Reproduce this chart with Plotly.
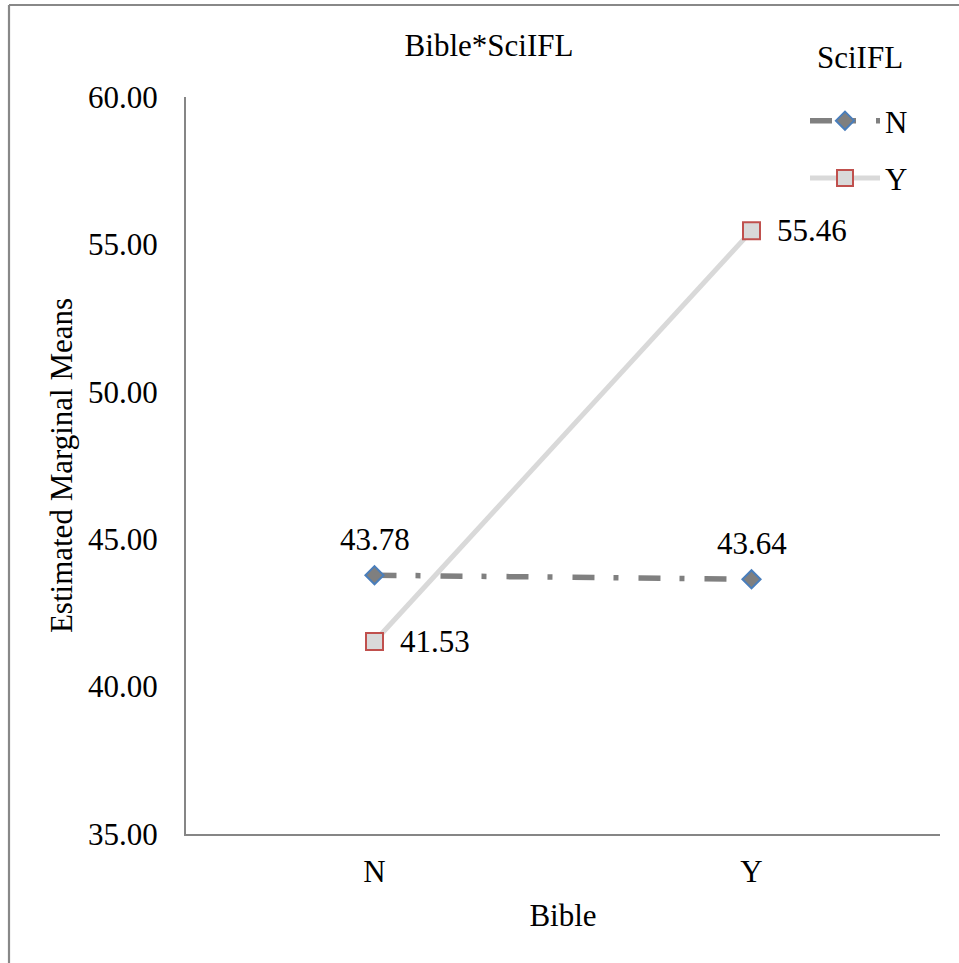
import plotly.graph_objects as go

bible = ["N", "Y"]
scifl_n = [43.78, 43.64]
scifl_y = [41.53, 55.46]
y_ticks = [35, 40, 45, 50, 55, 60]

FONT = "Times New Roman, Liberation Serif, serif"
FS = 31

fig = go.Figure()
fig.add_trace(go.Scatter(
    x=bible, y=scifl_n, name="N", mode="lines+markers", legendgroup="n",
    line=dict(color="#808080", width=5.5, dash="22px,19px,5px,20px"),
    marker=dict(symbol="diamond", size=14, color="#7f7f7f",
                line=dict(color="#4a7ebb", width=2)),
))
fig.add_trace(go.Scatter(
    x=bible, y=scifl_y, name="Y", mode="lines+markers", legendgroup="y",
    line=dict(color="#d9d9d9", width=5),
    marker=dict(symbol="square", size=17, color="#d9d9d9",
                line=dict(color="#c0504d", width=2)),
))

W, H = 959, 963
L, R, T, B = 186, 19, 97, 129
pw, ph = W - L - R, H - T - B

def px2x(p):
    return (p - L) / pw

def px2y(p):
    return (H - B - p) / ph

annotations = []
for cat, v in zip(bible, scifl_n):
    annotations.append(dict(x=cat, y=v, xref="x", yref="y", text=f"{v:.2f}",
                            showarrow=False, xanchor="center", yanchor="middle",
                            yshift=36, font=dict(family=FONT, size=FS, color="black")))
for cat, v in zip(bible, scifl_y):
    annotations.append(dict(x=cat, y=v, xref="x", yref="y", text=f"{v:.2f}",
                            showarrow=False, xanchor="left", yanchor="middle",
                            xshift=23, font=dict(family=FONT, size=FS, color="black")))
annotations.append(dict(x=px2x(860), y=px2y(58), xref="paper", yref="paper",
                        text="SciIFL", showarrow=False, xanchor="center",
                        yanchor="middle", font=dict(family=FONT, size=FS, color="black")))

fig.update_layout(
    width=W, height=H,
    margin=dict(l=L, r=R, t=T, b=B, autoexpand=False),
    paper_bgcolor="white", plot_bgcolor="white",
    font=dict(family=FONT, size=FS, color="black"),
    title=dict(text="Bible*SciIFL", x=489 / W, xanchor="center",
               y=1 - 45 / H, yanchor="middle",
               font=dict(family=FONT, size=FS, color="black")),
    showlegend=True,
    legend=dict(
        x=px2x(805), y=px2y(94), xanchor="left", yanchor="top",
        font=dict(family=FONT, size=FS, color="black"),
        itemwidth=70, bgcolor="rgba(0,0,0,0)", tracegroupgap=14,
    ),
    annotations=annotations,
    xaxis=dict(
        type="category", range=[-0.5, 1.5], showgrid=False,
        showline=True, linecolor="#868686", linewidth=2,
        ticks="", ticklabelstandoff=9,
        title=dict(text="Bible", standoff=16, font=dict(family=FONT, size=FS)),
        automargin=False, zeroline=False,
    ),
    yaxis=dict(
        range=[35, 60], tickvals=y_ticks,
        ticktext=[f"{v:.2f}" for v in y_ticks],
        showgrid=False, showline=True, linecolor="#868686", linewidth=2,
        ticks="", ticklabelstandoff=20,
        title=dict(text="Estimated Marginal Means", standoff=6,
                   font=dict(family=FONT, size=FS)),
        automargin=False, zeroline=False,
    ),
    shapes=[
        dict(type="line", xref="paper", yref="paper",
             x0=px2x(9), x1=px2x(1200), y0=px2y(5), y1=px2y(5),
             line=dict(color="#888888", width=2.2)),
        dict(type="line", xref="paper", yref="paper",
             x0=px2x(9), x1=px2x(9), y0=px2y(5), y1=px2y(1200),
             line=dict(color="#888888", width=2.2)),
    ],
)

fig.write_html("out.html")
